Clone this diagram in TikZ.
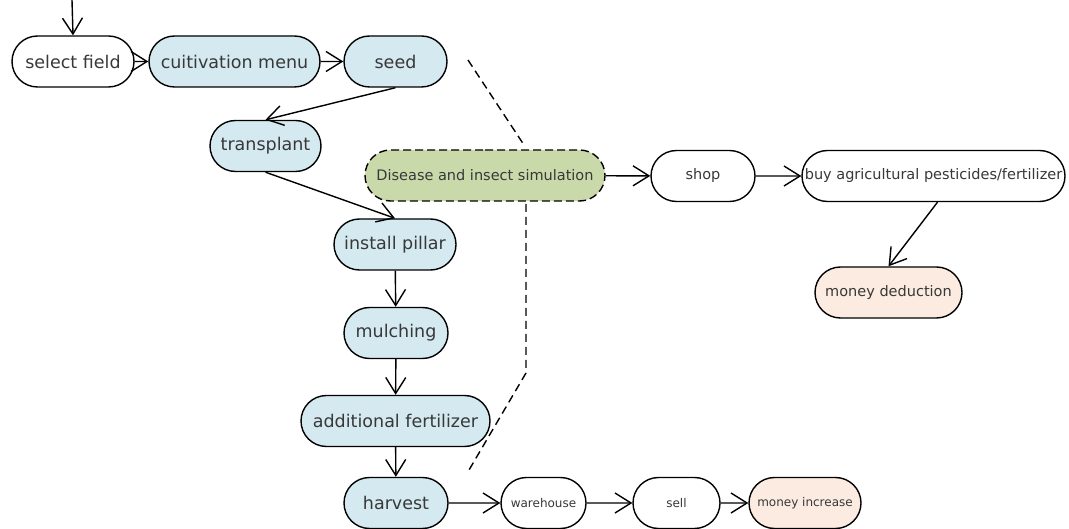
\documentclass[tikz,border=0pt]{standalone}
\usepackage{fontspec}
\setmainfont{DejaVu Sans}
\usetikzlibrary{shapes.misc,arrows.meta}
\definecolor{cblue}{HTML}{D4EAF0}
\definecolor{cgreen}{HTML}{CAD9A9}
\definecolor{cpeach}{HTML}{FCEBE0}
\definecolor{ctext}{HTML}{383838}
\tikzset{
  act/.style={rounded rectangle, draw=black, line width=1.4pt, minimum height=51pt,
    inner xsep=2pt, inner ysep=0pt, text=ctext, fill=white},
  big/.style={font=\fontsize{17.5}{20}\selectfont},
  mid/.style={font=\fontsize{14.5}{16}\selectfont},
  sml/.style={font=\fontsize{12}{14}\selectfont},
  blue/.style={fill=cblue},
  peach/.style={fill=cpeach},
  arr/.style={line width=1.4pt, -{Straight Barb[length=16pt,width=20pt]}},
  note/.style={line width=1.4pt, dash pattern=on 8pt off 5pt},
}
\begin{document}
\begin{tikzpicture}[x=1pt,y=-1pt]
\useasboundingbox (0,0) rectangle (1069,529);
% nodes
\node[act,big,minimum width=126pt] (sel) at (73,61.5) {select field};
\node[act,big,blue,minimum width=175pt] (cult) at (234.5,61.5) {cuitivation menu};
\node[act,big,blue,minimum width=107pt] (seed) at (395.5,61.5) {seed};
\node[act,big,blue,minimum width=115pt] (tr) at (265.5,146) {transplant};
\node[act,mid,fill=cgreen,minimum width=244pt,dash pattern=on 8pt off 4pt] (dis) at (485,175.5) {Disease and insect simulation};
\node[act,big,blue,minimum width=126pt] (inst) at (395,244.5) {install pillar};
\node[act,big,blue,minimum width=108pt] (mul) at (396,333) {mulching};
\node[act,big,blue,minimum width=193pt] (add) at (395.5,421) {additional fertilizer};
\node[act,big,blue,minimum width=108pt] (har) at (396,503) {harvest};
\node[act,sml,minimum width=89pt] (wh) at (543.5,503) {warehouse};
\node[act,sml,minimum width=91pt] (sell) at (676.5,503) {sell};
\node[act,sml,peach,minimum width=116pt] (mi) at (805,503) {money increase};
\node[act,mid,minimum width=108pt] (shop) at (703,176) {shop};
\node[act,mid,minimum width=267pt] (buy) at (933.5,176) {buy agricultural pesticides/fertilizer};
\node[act,mid,peach,minimum width=151pt] (md) at (888.5,292.5) {money deduction};
% coordinates
\coordinate (start) at (72,0);
\coordinate (n1) at (468,60);
\coordinate (n2) at (524,145);
\coordinate (n3) at (526,204);
\coordinate (n4) at (526,373);
\coordinate (n5) at (469,470);
% connectors
\draw[arr] (start) -- (sel.north);
\draw[arr] (sel) -- (cult);
\draw[arr] (cult) -- (seed);
\draw[arr] (seed.south) -- (tr.north);
\draw[arr] (tr.south) -- (inst.north);
\draw[arr] (inst) -- (mul);
\draw[arr] (mul) -- (add);
\draw[arr] (add) -- (har);
\draw[arr] (har) -- (wh);
\draw[arr] (wh) -- (sell);
\draw[arr] (sell) -- (mi);
\draw[arr] (dis) -- (shop);
\draw[arr] (shop) -- (buy);
\draw[arr] ([xshift=4pt]buy.south) -- (md.north);
\draw[note] (n1) -- (n2);
\draw[note] (n3) -- (n4) -- (n5);
\end{tikzpicture}
\end{document}
